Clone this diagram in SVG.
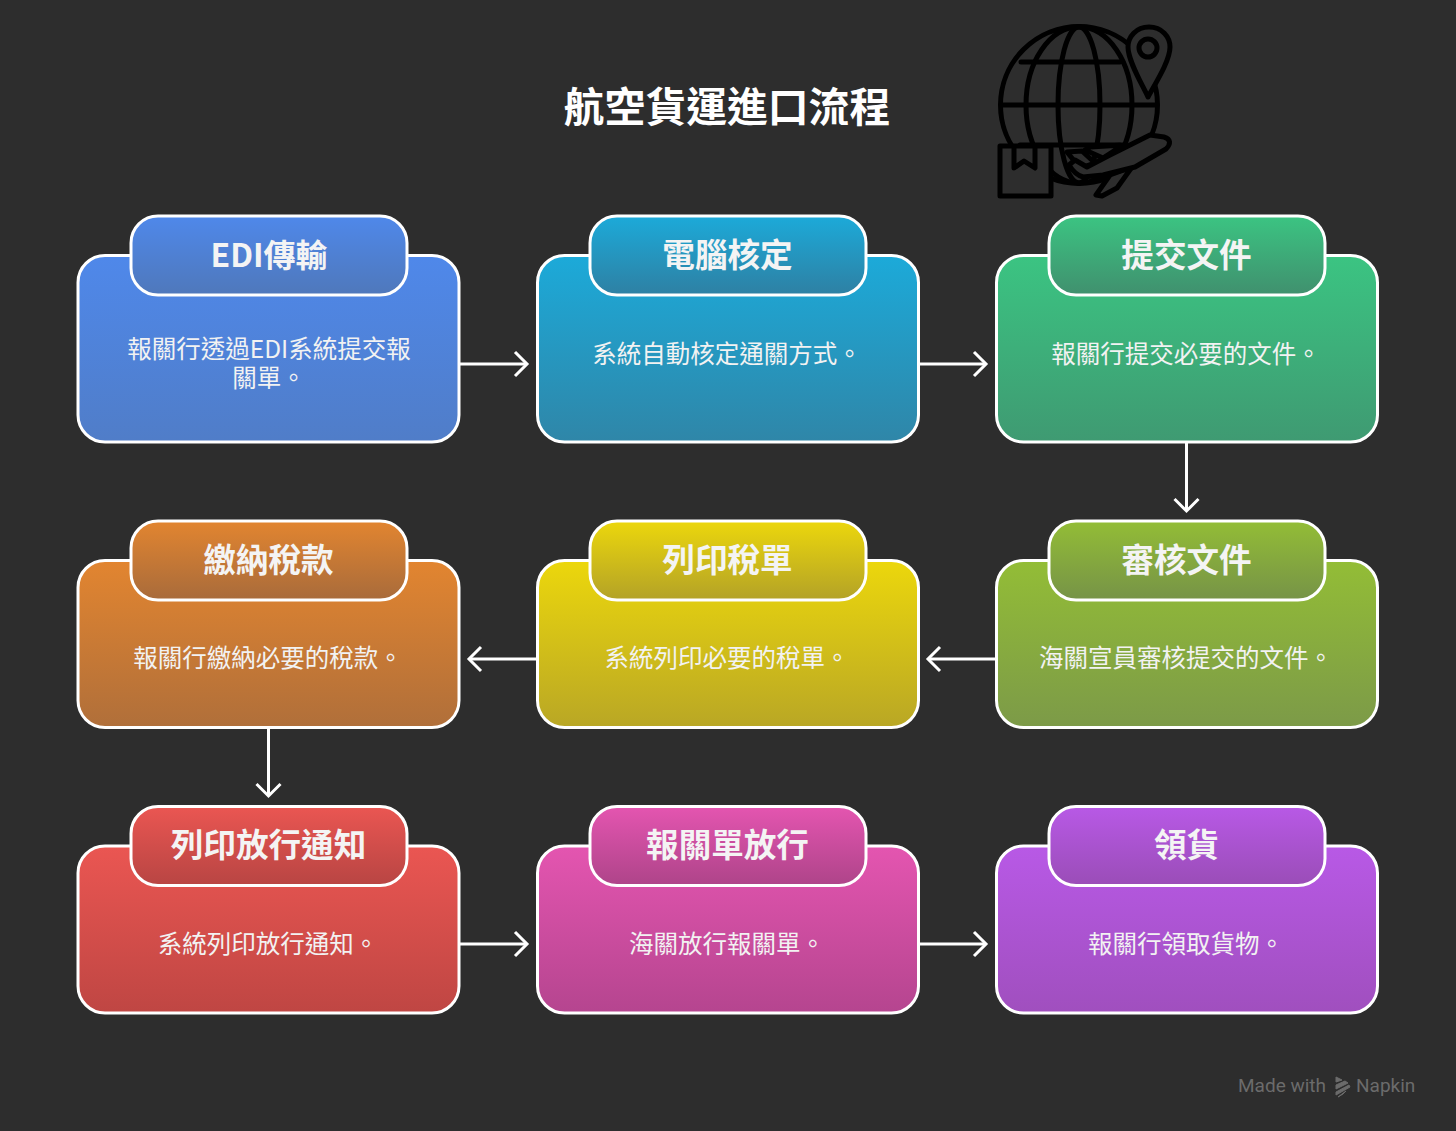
<svg xmlns="http://www.w3.org/2000/svg" width="1456" height="1131" viewBox="0 0 1456 1131">
<style>
.bg{fill:#2d2d2d}
.box{stroke:#fff;stroke-width:3}
.t{font-family:"Noto Sans CJK TC","Noto Sans",sans-serif;fill:#fff;text-anchor:middle}
.title{font-size:40.8px;font-weight:700}
.h{font-size:32.6px;font-weight:700;fill:#f4f4f4}
.b{font-size:24.5px;fill:#f2f2f2}
.c{fill:none;stroke:#fff;stroke-width:3}
.ic{fill:none;stroke:#000;stroke-width:5;stroke-linejoin:round;stroke-linecap:round}
.icf{fill:#2d2d2d;stroke:#000;stroke-width:5;stroke-linejoin:round;stroke-linecap:round}
.wm{font-family:"Roboto","Noto Sans",sans-serif;font-size:19px;fill:#6b6b6b}
</style>
<defs>
<marker id="ah" markerUnits="userSpaceOnUse" markerWidth="30" markerHeight="30" refX="14" refY="15" orient="auto"><path d="M2 3L14 15L2 27" fill="none" stroke="#fff" stroke-width="3"/></marker>
<linearGradient id="g1" x1="0" y1="0" x2="0" y2="1"><stop offset="0" stop-color="#4f88ea"/><stop offset="1" stop-color="#507dc8"/></linearGradient>
<linearGradient id="h1" x1="0" y1="0" x2="0" y2="1"><stop offset="0" stop-color="#4f88ea"/><stop offset="1" stop-color="#4f78bb"/></linearGradient>
<linearGradient id="g2" x1="0" y1="0" x2="0" y2="1"><stop offset="0" stop-color="#1caad9"/><stop offset="1" stop-color="#2f86a8"/></linearGradient>
<linearGradient id="h2" x1="0" y1="0" x2="0" y2="1"><stop offset="0" stop-color="#1caad9"/><stop offset="1" stop-color="#2e80a3"/></linearGradient>
<linearGradient id="g3" x1="0" y1="0" x2="0" y2="1"><stop offset="0" stop-color="#3bc482"/><stop offset="1" stop-color="#3f9a72"/></linearGradient>
<linearGradient id="h3" x1="0" y1="0" x2="0" y2="1"><stop offset="0" stop-color="#3bc482"/><stop offset="1" stop-color="#40906e"/></linearGradient>
<linearGradient id="g4" x1="0" y1="0" x2="0" y2="1"><stop offset="0" stop-color="#93bd36"/><stop offset="1" stop-color="#7c9a48"/></linearGradient>
<linearGradient id="h4" x1="0" y1="0" x2="0" y2="1"><stop offset="0" stop-color="#93bd36"/><stop offset="1" stop-color="#769347"/></linearGradient>
<linearGradient id="g5" x1="0" y1="0" x2="0" y2="1"><stop offset="0" stop-color="#ecd70c"/><stop offset="1" stop-color="#b9a725"/></linearGradient>
<linearGradient id="h5" x1="0" y1="0" x2="0" y2="1"><stop offset="0" stop-color="#ecd70c"/><stop offset="1" stop-color="#b3a227"/></linearGradient>
<linearGradient id="g6" x1="0" y1="0" x2="0" y2="1"><stop offset="0" stop-color="#e28530"/><stop offset="1" stop-color="#b06f3a"/></linearGradient>
<linearGradient id="h6" x1="0" y1="0" x2="0" y2="1"><stop offset="0" stop-color="#e28530"/><stop offset="1" stop-color="#a86b3b"/></linearGradient>
<linearGradient id="g7" x1="0" y1="0" x2="0" y2="1"><stop offset="0" stop-color="#ea5652"/><stop offset="1" stop-color="#bf4643"/></linearGradient>
<linearGradient id="h7" x1="0" y1="0" x2="0" y2="1"><stop offset="0" stop-color="#ea5652"/><stop offset="1" stop-color="#b84543"/></linearGradient>
<linearGradient id="g8" x1="0" y1="0" x2="0" y2="1"><stop offset="0" stop-color="#e455b0"/><stop offset="1" stop-color="#b5458f"/></linearGradient>
<linearGradient id="h8" x1="0" y1="0" x2="0" y2="1"><stop offset="0" stop-color="#e455b0"/><stop offset="1" stop-color="#ae4489"/></linearGradient>
<linearGradient id="g9" x1="0" y1="0" x2="0" y2="1"><stop offset="0" stop-color="#b859e6"/><stop offset="1" stop-color="#a04fbe"/></linearGradient>
<linearGradient id="h9" x1="0" y1="0" x2="0" y2="1"><stop offset="0" stop-color="#b859e6"/><stop offset="1" stop-color="#9a4db7"/></linearGradient>
</defs>
<rect class="bg" width="1456" height="1131"/>
<text class="t title" x="727" y="122">航空貨運進口流程</text>
<g id="icon">
<circle class="ic" cx="1079" cy="105" r="78.500"/>
<ellipse class="ic" cx="1079" cy="105" rx="21" ry="78"/>
<ellipse class="ic" cx="1079" cy="105" rx="53" ry="78"/>
<path class="ic" d="M1021 62H1120M1003 105H1155M1020 145H1120"/>
<path class="icf" d="M1149 27C1136 27 1128 37 1128 47C1128 61 1142 84 1148 97C1155 84 1170 61 1170 47C1170 37 1162 27 1149 27Z"/>
<circle class="ic" cx="1148" cy="48" r="9"/>
<rect class="icf" x="1000" y="146" width="51" height="50"/>
<path class="ic" d="M1014 147V168L1024 161L1035 168V147"/>
<path class="icf" d="M1123 145L1090 147L1085 150L1103 158Z"/>
<path class="icf" d="M1067 152L1082 151L1095 163L1080 168Z"/>
<path class="icf" d="M1132 167L1110 175L1096 195L1102 196L1117 188Z"/>
<path class="icf" d="M1069 165L1075 160L1087 167L1110 155L1150 135L1164 137C1171 139 1171 144 1166 149L1135 167L1103 175L1083 177C1076 175 1072 170 1069 165Z"/>
</g>
<g id="connectors">
<path class="c" marker-end="url(#ah)" d="M460 364H527"/>
<path class="c" marker-end="url(#ah)" d="M919 364H986"/>
<path class="c" marker-end="url(#ah)" d="M1186.500 443V511"/>
<path class="c" marker-end="url(#ah)" d="M996 659H928"/>
<path class="c" marker-end="url(#ah)" d="M537 659H469"/>
<path class="c" marker-end="url(#ah)" d="M268.500 728V796"/>
<path class="c" marker-end="url(#ah)" d="M460 944H527"/>
<path class="c" marker-end="url(#ah)" d="M919 944H986"/>
</g>
<g id="n1"><rect class="box" x="78" y="255.500" width="381" height="186.500" rx="27" fill="url(#g1)"/><rect class="box" x="131" y="216" width="276" height="79" rx="27" fill="url(#h1)"/><text class="t h" x="269" y="267" style="font-size:32px">EDI傳輸</text><text class="t b"><tspan x="269" y="358">報關行透過EDI系統提交報</tspan><tspan x="269" y="387">關單。</tspan></text></g>
<g id="n2"><rect class="box" x="537.500" y="255.500" width="381" height="186.500" rx="27" fill="url(#g2)"/><rect class="box" x="590" y="216" width="276" height="79" rx="27" fill="url(#h2)"/><text class="t h" x="727.500" y="267">電腦核定</text><text class="t b" x="727" y="363">系統自動核定通關方式。</text></g>
<g id="n3"><rect class="box" x="996.500" y="255.500" width="381" height="186.500" rx="27" fill="url(#g3)"/><rect class="box" x="1049" y="216" width="276" height="79" rx="27" fill="url(#h3)"/><text class="t h" x="1186.500" y="267">提交文件</text><text class="t b" x="1186" y="363">報關行提交必要的文件。</text></g>
<g id="n4"><rect class="box" x="996.500" y="560.500" width="381" height="167" rx="27" fill="url(#g4)"/><rect class="box" x="1049" y="521" width="276" height="79" rx="27" fill="url(#h4)"/><text class="t h" x="1186.500" y="572">審核文件</text><text class="t b" x="1186" y="667">海關宣員審核提交的文件。</text></g>
<g id="n5"><rect class="box" x="537.500" y="560.500" width="381" height="167" rx="27" fill="url(#g5)"/><rect class="box" x="590" y="521" width="276" height="79" rx="27" fill="url(#h5)"/><text class="t h" x="727.500" y="572">列印稅單</text><text class="t b" x="727" y="667">系統列印必要的稅單。</text></g>
<g id="n6"><rect class="box" x="78" y="560.500" width="381" height="167" rx="27" fill="url(#g6)"/><rect class="box" x="131" y="521" width="276" height="79" rx="27" fill="url(#h6)"/><text class="t h" x="268.500" y="572">繳納稅款</text><text class="t b" x="268" y="667">報關行繳納必要的稅款。</text></g>
<g id="n7"><rect class="box" x="78" y="846" width="381" height="167" rx="27" fill="url(#g7)"/><rect class="box" x="131" y="806.500" width="276" height="79" rx="27" fill="url(#h7)"/><text class="t h" x="268.500" y="857">列印放行通知</text><text class="t b" x="268" y="953">系統列印放行通知。</text></g>
<g id="n8"><rect class="box" x="537.500" y="846" width="381" height="167" rx="27" fill="url(#g8)"/><rect class="box" x="590" y="806.500" width="276" height="79" rx="27" fill="url(#h8)"/><text class="t h" x="727.500" y="857">報關單放行</text><text class="t b" x="727" y="953">海關放行報關單。</text></g>
<g id="n9"><rect class="box" x="996.500" y="846" width="381" height="167" rx="27" fill="url(#g9)"/><rect class="box" x="1049" y="806.500" width="276" height="79" rx="27" fill="url(#h9)"/><text class="t h" x="1186.500" y="857">領貨</text><text class="t b" x="1186" y="953">報關行領取貨物。</text></g>
<g id="watermark">
<text class="wm" x="1238" y="1092">Made with</text>
<path d="M1336 1077L1342 1080L1336 1082ZM1336 1085L1345 1081L1348 1083L1336 1089ZM1336 1092L1349 1085L1350 1087L1336 1095ZM1338 1097L1346 1091L1343 1094Z" fill="#6b6b6b" stroke="#6b6b6b" stroke-width="1"/>
<text class="wm" x="1356" y="1092">Napkin</text>
</g>
</svg>
